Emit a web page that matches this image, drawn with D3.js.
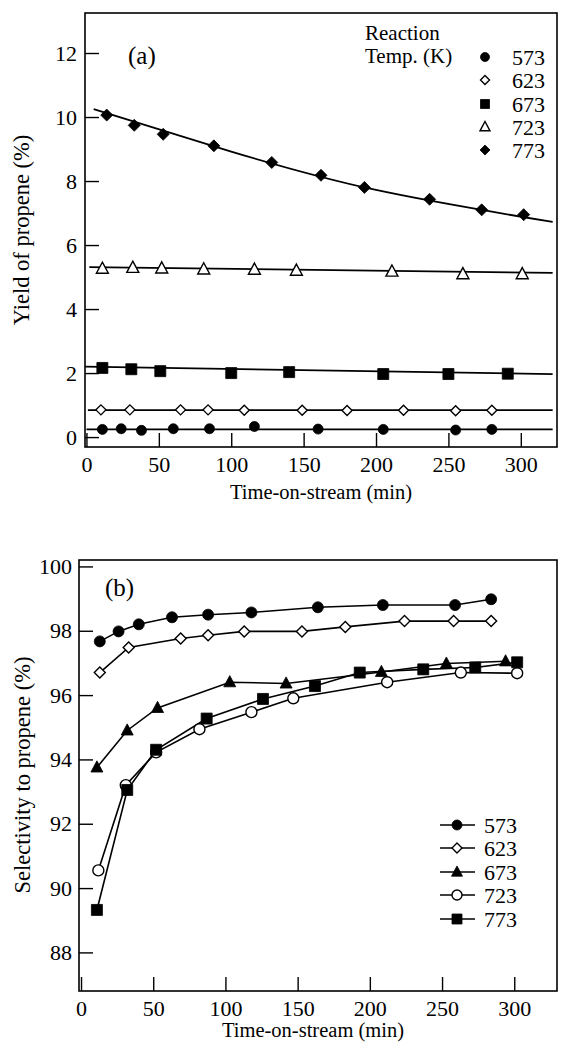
<!DOCTYPE html>
<html><head><meta charset="utf-8">
<script src="https://cdn.jsdelivr.net/npm/d3@7"></script>
<style>
body{margin:0;background:#fff}
svg{display:block}
svg text{font-family:"Liberation Serif","Times New Roman",Times,"Tinos","DejaVu Serif",serif !important;fill:#000}
</style>
</head><body>
<svg id="c" width="562" height="1044"></svg>
<script>
// ---------- data ----------
const temps = ["573","623","673","723","773"];
const xTicks = [0,50,100,150,200,250,300];
const yTicksA = [0,2,4,6,8,10,12];
const yTicksB = [88,90,92,94,96,98,100];

// panel (a): yield of propene (%)
const a573T = [11,24,38,60,85,116,160,205,255,280];
const a573Y = [0.24,0.26,0.21,0.26,0.26,0.33,0.25,0.24,0.22,0.24];
const a623T = [10,30,65,84,109,149,180,219,255,280];
const a623Y = [0.85,0.85,0.85,0.85,0.84,0.84,0.83,0.84,0.82,0.84];
const a673T = [11,31,51,100,140,205,250,291];
const a673Y = [2.16,2.12,2.06,2.0,2.03,1.97,1.97,1.98];
const a723T = [11,32,52,81,116,145,211,260,301];
const a723Y = [5.26,5.29,5.27,5.24,5.23,5.2,5.17,5.09,5.09];
const a773T = [14,33,53,88,128,162,192,237,273,302];
const a773Y = [10.06,9.74,9.46,9.1,8.58,8.18,7.8,7.43,7.1,6.95];
// fitted trend lines drawn in panel (a)
const fit573 = [[0,0.24],[322,0.24]];
const fit623 = [[1,0.84],[322,0.84]];
const fit673 = [[-1,2.2],[322,1.97]];
const fit723 = [[2,5.31],[322,5.13]];
const fit773 = [[5,10.25],[100,8.92],[200,7.72],[322,6.72]];

// panel (b): selectivity to propene (%)
const b573T = [13,26,40,63,88,118,164,209,259,284];
const b573Y = [97.67,97.98,98.2,98.42,98.5,98.57,98.73,98.8,98.8,98.98];
const b623T = [13,33,69,88,113,153,183,224,258,284];
const b623Y = [96.7,97.48,97.76,97.86,97.98,97.98,98.12,98.3,98.3,98.3];
const b673T = [11,32,53,103,142,208,253,294];
const b673Y = [93.75,94.9,95.6,96.4,96.36,96.72,96.98,97.05];
const b723T = [12,31,52,82,118,147,212,263,302];
const b723Y = [90.55,93.2,94.22,94.94,95.47,95.9,96.4,96.7,96.68];
const b773T = [11,32,52,87,126,162,193,237,273,302];
const b773Y = [89.32,93.05,94.3,95.27,95.88,96.28,96.7,96.8,96.86,97.02];

// ---------- helpers ----------
const FONT = '"Liberation Serif","Times New Roman",Times,"DejaVu Serif",serif';
const svg = d3.select("#c");
const zip = (t,y) => t.map((v,i)=>[v,y[i]]);

function markerPath(kind, s){
  const p = d3.path();
  if(kind==="circle"){ p.arc(0,0,s/2,0,2*Math.PI); }
  else if(kind==="square"){ p.rect(-s/2,-s/2,s,s); }
  else if(kind==="triangle"){ p.moveTo(0,-s*0.55); p.lineTo(s/2,s*0.38); p.lineTo(-s/2,s*0.38); p.closePath(); }
  else if(kind==="diamond"){ p.moveTo(0,-s/2); p.lineTo(s/2,0); p.lineTo(0,s/2); p.lineTo(-s/2,0); p.closePath(); }
  return p.toString();
}
function drawMarkers(g, pts, x, y, st){
  g.selectAll(null).data(pts).enter().append("path")
    .attr("d", markerPath(st.kind, st.size))
    .attr("transform", d=>`translate(${x(d[0])},${y(d[1])})`)
    .attr("fill", st.open ? "#fff" : "#000")
    .attr("stroke", "#000").attr("stroke-width", st.open ? 1.4 : 0.8);
}
function frameAndAxes(g, x, y, yTicks, L, T, R, B, labelPadX){
  g.append("g").attr("transform",`translate(0,${B})`)
    .call(d3.axisBottom(x).tickValues(xTicks).tickSize(-14).tickSizeOuter(0).tickPadding(9))
    .call(s=>{ s.attr("font-family",FONT).attr("font-size",22); s.select(".domain").remove();
      s.selectAll("line").attr("stroke","#000").attr("stroke-width",1.4);
      s.selectAll("text").attr("fill","#000"); });
  g.append("g").attr("transform",`translate(${L},0)`)
    .call(d3.axisLeft(y).tickValues(yTicks).tickSize(-14).tickSizeOuter(0).tickPadding(labelPadX))
    .call(s=>{ s.attr("font-family",FONT).attr("font-size",22); s.select(".domain").remove();
      s.selectAll("line").attr("stroke","#000").attr("stroke-width",1.4);
      s.selectAll("text").attr("fill","#000"); });
  g.append("rect").attr("x",L).attr("y",T).attr("width",R-L).attr("height",B-T)
    .attr("fill","none").attr("stroke","#000").attr("stroke-width",1.6);
}

// ---------- panel (a) ----------
{
  const L=85, T=13, R=557, B=447;
  const x = d3.scaleLinear().domain([-1,325]).range([L,R]);
  const y = d3.scaleLinear().domain([-0.31,13.25]).range([B,T]);
  const g = svg.append("g").attr("font-family",FONT);
  frameAndAxes(g, x, y, yTicksA, L, T, R, B, 8);

  const line = d3.line().x(d=>x(d[0])).y(d=>y(d[1]));
  const lineC = d3.line().x(d=>x(d[0])).y(d=>y(d[1])).curve(d3.curveNatural);
  [fit573,fit623,fit673,fit723].forEach(f=>{
    g.append("path").attr("d",line(f)).attr("fill","none").attr("stroke","#000").attr("stroke-width",1.8);
  });
  g.append("path").attr("d",lineC(fit773)).attr("fill","none").attr("stroke","#000").attr("stroke-width",1.8);

  const stA = [
    {kind:"circle",size:10,open:false},
    {kind:"diamond",size:10,open:true},
    {kind:"square",size:11,open:false},
    {kind:"triangle",size:12,open:true},
    {kind:"diamond",size:12,open:false}];
  const dataA = [zip(a573T,a573Y),zip(a623T,a623Y),zip(a673T,a673Y),zip(a723T,a723Y),zip(a773T,a773Y)];
  dataA.forEach((d,i)=>drawMarkers(g,d,x,y,stA[i]));

  g.append("text").attr("x",128).attr("y",64).attr("font-size",25).text("(a)");
  g.append("text").attr("x",365).attr("y",40).attr("font-size",21).text("Reaction");
  g.append("text").attr("x",365).attr("y",63).attr("font-size",21).text("Temp. (K)");
  const legY = [57,80,104,127,150];
  const stLeg = [
    {kind:"circle",size:9,open:false},
    {kind:"diamond",size:9,open:true},
    {kind:"square",size:9,open:false},
    {kind:"triangle",size:10,open:true},
    {kind:"diamond",size:10,open:false}];
  temps.forEach((t,i)=>{
    g.append("path").attr("d",markerPath(stLeg[i].kind,stLeg[i].size))
      .attr("transform",`translate(485,${legY[i]})`)
      .attr("fill",stLeg[i].open?"#fff":"#000").attr("stroke","#000").attr("stroke-width",stLeg[i].open?1.4:0.8);
    g.append("text").attr("x",512).attr("y",legY[i]+7.5).attr("font-size",22).text(t);
  });

  g.append("text").attr("x",321).attr("y",499).attr("text-anchor","middle").attr("font-size",20.5).text("Time-on-stream (min)");
  g.append("text").attr("transform","translate(29,230) rotate(-90)").attr("text-anchor","middle").attr("font-size",22.5).text("Yield of propene (%)");
}

// ---------- panel (b) ----------
{
  const L=79, T=560, R=557, B=991;
  const x = d3.scaleLinear().domain([-1.4,329.6]).range([L,R]);
  const y = d3.scaleLinear().domain([86.8,100.2]).range([B,T]);
  const g = svg.append("g").attr("font-family",FONT);
  frameAndAxes(g, x, y, yTicksB, L, T, R, B, 7);

  const line = d3.line().x(d=>x(d[0])).y(d=>y(d[1]));
  const stB = [
    {kind:"circle",size:11,open:false},
    {kind:"diamond",size:11,open:true},
    {kind:"triangle",size:12,open:false},
    {kind:"circle",size:11,open:true},
    {kind:"square",size:11,open:false}];
  const dataB = [zip(b573T,b573Y),zip(b623T,b623Y),zip(b673T,b673Y),zip(b723T,b723Y),zip(b773T,b773Y)];
  dataB.forEach(d=>{
    g.append("path").attr("d",line(d)).attr("fill","none").attr("stroke","#000").attr("stroke-width",1.6);
  });
  dataB.forEach((d,i)=>drawMarkers(g,d,x,y,stB[i]));

  g.append("text").attr("x",105).attr("y",596).attr("font-size",25).text("(b)");

  const legY = [825,848,872,895,919];
  temps.forEach((t,i)=>{
    g.append("line").attr("x1",440).attr("x2",475).attr("y1",legY[i]).attr("y2",legY[i])
      .attr("stroke","#000").attr("stroke-width",1.4);
    g.append("path").attr("d",markerPath(stB[i].kind,stB[i].size-1))
      .attr("transform",`translate(457,${legY[i]})`)
      .attr("fill",stB[i].open?"#fff":"#000").attr("stroke","#000").attr("stroke-width",stB[i].open?1.4:0.8);
    g.append("text").attr("x",484).attr("y",legY[i]+7.5).attr("font-size",22).text(t);
  });

  g.append("text").attr("x",313).attr("y",1037).attr("text-anchor","middle").attr("font-size",20.5).text("Time-on-stream (min)");
  g.append("text").attr("transform","translate(30,775) rotate(-90)").attr("text-anchor","middle").attr("font-size",22.5).text("Selectivity to propene (%)");
}
</script>
</body></html>
